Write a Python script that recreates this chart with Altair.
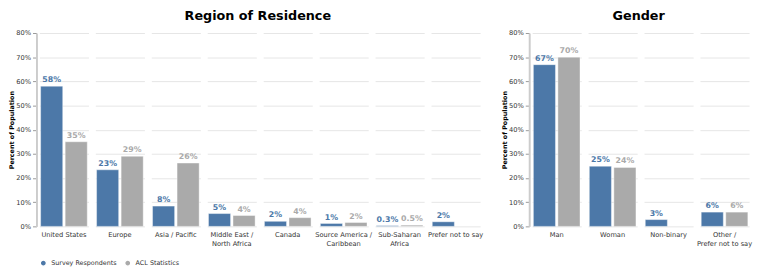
import altair as alt
import pandas as pd

FONT = "DejaVu Sans"
BLUE = "#4c78a8"
GREY = "#aaaaaa"

series = ["Survey Respondents", "ACL Statistics"]

region_cats = ["United States", "Europe", "Asia / Pacific", "Middle East /|North Africa",
               "Canada", "Source America /|Caribbean", "Sub-Saharan|Africa", "Prefer not to say"]
region_survey = [58.0, 23.4, 8.4, 5.3, 2.1, 1.2, 0.3, 1.9]
region_survey_lbl = ["58%", "23%", "8%", "5%", "2%", "1%", "0.3%", "2%"]
region_acl = [35.0, 29.0, 26.2, 4.5, 3.6, 1.6, 0.5, None]
region_acl_lbl = ["35%", "29%", "26%", "4%", "4%", "2%", "0.5%", None]

gender_cats = ["Man", "Woman", "Non-binary", "Other /|Prefer not to say"]
gender_survey = [66.9, 24.9, 2.8, 5.9]
gender_survey_lbl = ["67%", "25%", "3%", "6%"]
gender_acl = [70.0, 24.4, None, 5.9]
gender_acl_lbl = ["70%", "24%", None, "6%"]


def build(cats, s_vals, s_lbl, a_vals, a_lbl):
    rows = []
    for c, v, l in zip(cats, s_vals, s_lbl):
        rows.append({"cat": c, "series": series[0], "value": v / 100, "label": l})
    for c, v, l in zip(cats, a_vals, a_lbl):
        if v is not None:
            rows.append({"cat": c, "series": series[1], "value": v / 100, "label": l})
    return pd.DataFrame(rows)


color = alt.Color("series:N", scale=alt.Scale(domain=series, range=[BLUE, GREY]),
                  legend=alt.Legend(title=None, orient="bottom", direction="horizontal",
                                    symbolType="circle", symbolSize=40, labelFontSize=6.5,
                                    labelFont=FONT, labelColor="#333", columnPadding=4,
                                    labelOffset=4, offset=11))


def panel(df, cats, title):
    x = alt.X("series:N", sort=series, axis=None,
              scale=alt.Scale(paddingInner=0.1, paddingOuter=0.05))
    y = alt.Y("value:Q", scale=alt.Scale(domain=[0, 0.8]),
              axis=alt.Axis(format="%", values=[0, .1, .2, .3, .4, .5, .6, .7, .8],
                            title="Percent of Population", titleFontSize=6.5,
                            titleFont=FONT, titleFontWeight="bold", labelFontSize=6.8,
                            labelFont=FONT, labelColor="#333", offset=3,
                            domainColor="#cccccc", domainWidth=2, tickColor="#999",
                            tickSize=4, labelPadding=2,
                            gridColor="#e6e6e6", titlePadding=1))
    bars = alt.Chart().mark_bar(stroke="white", strokeWidth=0.8, strokeOpacity=0.5).encode(
        x=x, y=y, color=color)
    text = alt.Chart().mark_text(baseline="alphabetic", dy=-4, fontSize=8,
                                 fontWeight="bold", font=FONT).encode(
        x=x, y=y, text="label:N", color=alt.Color("series:N", legend=None,
                                                  scale=alt.Scale(domain=series, range=[BLUE, GREY])))
    layer = alt.layer(bars, text, data=df).properties(width=50, height=197)
    return layer.facet(
        column=alt.Column("cat:N", sort=cats,
                          header=alt.Header(title=None, labelOrient="bottom",
                                            labelExpr="split(datum.value, '|')",
                                            labelFontSize=6.8, labelFont=FONT,
                                            labelColor="#333", labelPadding=6,
                                            labelLineHeight=8.5)),
        spacing=7,
        bounds="flush",
    ).properties(title=alt.TitleParams(title, fontSize=13, font=FONT,
                                       fontWeight="bold", anchor="middle", color="#000",
                                       offset=7, dx=12))


left = panel(build(region_cats, region_survey, region_survey_lbl, region_acl, region_acl_lbl),
             region_cats, "Region of Residence")
right = panel(build(gender_cats, gender_survey, gender_survey_lbl, gender_acl, gender_acl_lbl),
              gender_cats, "Gender")

chart = alt.hconcat(left, right, spacing=17).resolve_scale(color="shared").properties(
    padding=0
).configure_view(stroke=None).configure_axis(labelFont=FONT)

chart.save("out.html", embed_options={"renderer": "svg", "actions": False})
